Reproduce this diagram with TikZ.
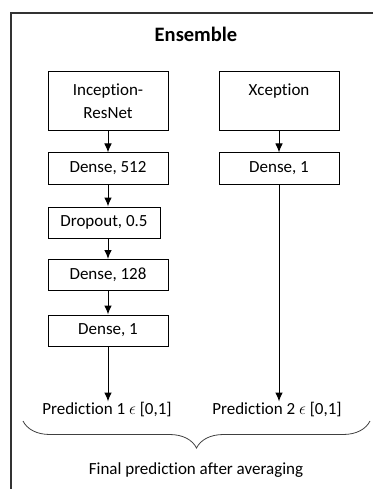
\documentclass[tikz,border=0pt]{standalone}
\usepackage{fontspec}
\setmainfont{Carlito}[Ligatures=NoCommon]
\usetikzlibrary{decorations.pathreplacing,arrows.meta}
\tikzstyle{layer}=[draw,line width=1pt,minimum width=120pt,minimum height=31pt,inner sep=0pt,align=center,font=\fontsize{17}{23}\selectfont]
\tikzstyle{flow}=[line width=1pt,-{Latex[length=9pt,width=7.5pt]}]
\tikzstyle{label}=[inner sep=1pt,font=\fontsize{17}{20}\selectfont]

\begin{document}
\begin{tikzpicture}[x=1pt,y=-1pt]
	\useasboundingbox (0,0) rectangle (374,489);
	
	% frame
	\draw[line width=1.4pt,black!80] (373,13) -- (11,13) -- (11,489);
	\node[font=\fontsize{20.5}{24}\selectfont\bfseries] (title) at (196,34) {Ensemble};
	
	\def\xL{108}
	\def\xR{279}
	
	% left branch
	\node[layer,minimum height=59pt] (incep) at (\xL,101.5) {Inception-\\ResNet};
	\node[layer] (dense512) at (\xL,168.5) {Dense, 512};
	\node[layer,minimum width=112pt] (drop) at (104,222.5) {Dropout, 0.5};
	\node[layer] (dense128) at (\xL,275) {Dense, 128};
	\node[layer] (denseA) at (\xL,330.5) {Dense, 1};
	\node[label] (predA) at (107,410) {Prediction 1 $\epsilon$ [0,1]};
	
	% right branch
	\node[layer,minimum height=59pt] (xcep) at (\xR,101.5) {Xception\\~};
	\node[layer] (denseB) at (\xR,168.5) {Dense, 1};
	\node[label] (predB) at (277,410) {Prediction 2 $\epsilon$ [0,1]};
	
	\draw[flow] (incep.south) -- (dense512.north);
	\draw[flow] (dense512.south) -- (drop.north -| dense512.south);
	\draw[flow] (drop.south -| dense128.north) -- (dense128.north);
	\draw[flow] (dense128.south) -- (denseA.north);
	\draw[flow] (denseA.south) -- (predA.north -| denseA.south);
	\draw[flow] (xcep.south) -- (denseB.north);
	\draw[flow] (denseB.south) -- (predB.north -| denseB.south);
	
	% averaging
	\coordinate (bl) at (23,421);
	\coordinate (br) at (370,421);
	\draw[line width=0.8pt,black!75,decorate,decoration={brace,mirror,amplitude=27pt}] (bl) -- (br);
	\node[label] (final) at (196,470) {Final prediction after averaging};
\end{tikzpicture}
\end{document}
